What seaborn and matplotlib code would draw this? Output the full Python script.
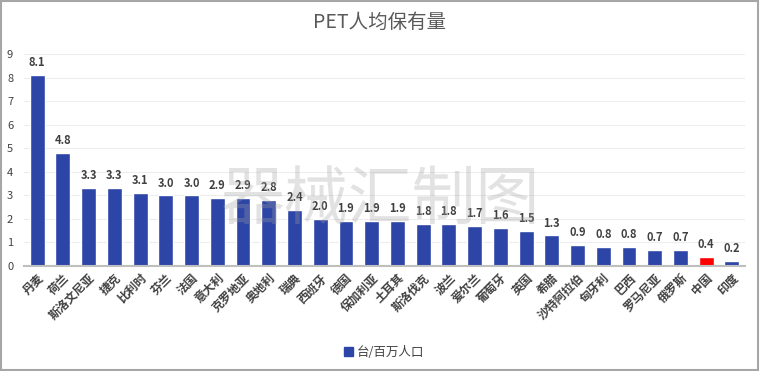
#!/usr/bin/env python3
# PET per-capita installed base, units per million people

import pandas as pd
import seaborn as sns
import matplotlib.pyplot as plt
from matplotlib.patches import Patch

countries = ["丹麦", "荷兰", "斯洛文尼亚", "捷克", "比利时", "芬兰", "法国", "意大利",
             "克罗地亚", "奥地利", "瑞典", "西班牙", "德国", "保加利亚", "土耳其",
             "斯洛伐克", "波兰", "爱尔兰", "葡萄牙", "英国", "希腊", "沙特阿拉伯",
             "匈牙利", "巴西", "罗马尼亚", "俄罗斯", "中国", "印度"]
values = [8.1, 4.8, 3.3, 3.3, 3.1, 3.0, 3.0, 2.9, 2.9, 2.8, 2.4, 2.0, 1.9, 1.9,
          1.9, 1.8, 1.8, 1.7, 1.6, 1.5, 1.3, 0.9, 0.8, 0.8, 0.7, 0.7, 0.4, 0.2]
highlight = "中国"

BLUE = "#2E45A8"
RED = "#FF0000"
TEXT = "#404040"

sns.set_style("white")
plt.rcParams['font.family'] = ['Noto Sans CJK SC', 'DejaVu Sans']

data = pd.DataFrame({"country": countries, "value": values})
palette = {c: (RED if c == highlight else BLUE) for c in countries}

fig = plt.figure(figsize=(7.6, 3.71), dpi=100)
ax = fig.add_axes([0.032, 0.283, 0.948, 0.571])

sns.barplot(x="country", y="value", hue="country", data=data, palette=palette,
            width=0.58, legend=False, ax=ax, saturation=1)

for i, v in enumerate(values):
    ax.text(i, v + 0.25, f"{v:.1f}", ha="center", va="bottom", fontsize=8,
            color=TEXT, fontweight="bold")

ax.set_ylim(0, 9)
ax.set_yticks(range(10))
ax.set_xlim(-0.5, len(countries) - 0.5)
ax.yaxis.grid(True, color="#EDEDED", linewidth=0.8)
ax.set_axisbelow(True)
for s in ["top", "right", "left"]:
    ax.spines[s].set_visible(False)
ax.spines["bottom"].set_color("#BFBFBF")
ax.spines["bottom"].set_linewidth(1.5)
ax.set_xlabel("")
ax.set_ylabel("")
ax.tick_params(axis="y", length=0, labelsize=8, labelcolor=TEXT, pad=8)
ax.tick_params(axis="x", length=0, labelsize=8.5, labelcolor=TEXT, pad=4)
plt.setp(ax.get_xticklabels(), rotation=45, ha="right", rotation_mode="anchor",
         fontweight="bold")

fig.text(0.5, 0.94, "PET人均保有量", ha="center", va="center", fontsize=14,
         color="#595959")
fig.text(0.5, 0.46, "器械汇制图", ha="center", va="center", fontsize=46,
         color="#A0A0A0", alpha=0.3, zorder=0)

fig.legend(handles=[Patch(color=BLUE, label="台/百万人口")], loc="center",
           bbox_to_anchor=(0.505, 0.05), frameon=False, fontsize=9,
           handlelength=0.7, handleheight=0.7, handletextpad=0.3,
           labelcolor=TEXT)

fig.patches.append(plt.Rectangle((0.001, 0.002), 0.997, 0.995, transform=fig.transFigure,
                                 fill=False, edgecolor="#A6A6A6", linewidth=1.5))

fig.savefig("out.png", dpi=100)
